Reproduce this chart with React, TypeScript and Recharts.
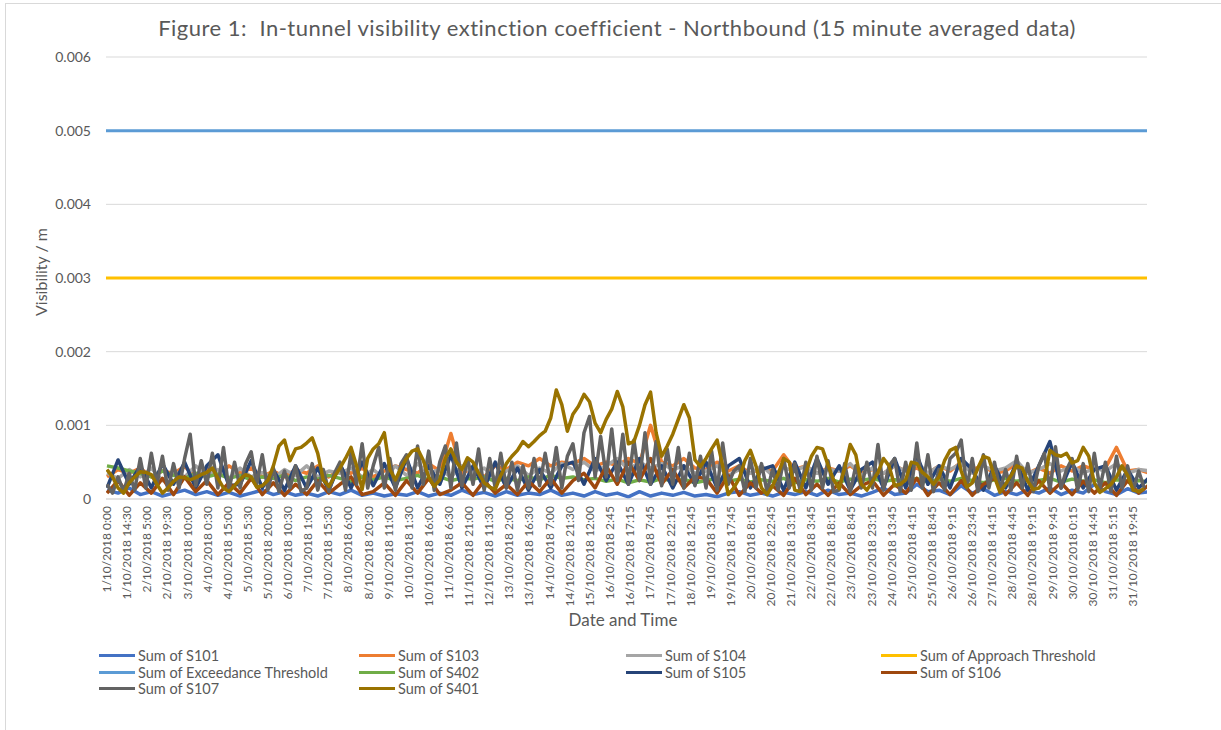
import React from 'react';
import { LineChart, Line, XAxis, YAxis, CartesianGrid } from 'recharts';

const TITLE = 'Figure 1:  In-tunnel visibility extinction coefficient - Northbound (15 minute averaged data)';

const TICK_LABELS = [
  '1/10/2018 0:00', '1/10/2018 14:30', '2/10/2018 5:00', '2/10/2018 19:30', '3/10/2018 10:00',
  '4/10/2018 0:30', '4/10/2018 15:00', '5/10/2018 5:30', '5/10/2018 20:00', '6/10/2018 10:30',
  '7/10/2018 1:00', '7/10/2018 15:30', '8/10/2018 6:00', '8/10/2018 20:30', '9/10/2018 11:00',
  '10/10/2018 1:30', '10/10/2018 16:00', '11/10/2018 6:30', '11/10/2018 21:00', '12/10/2018 11:30',
  '13/10/2018 2:00', '13/10/2018 16:30', '14/10/2018 7:00', '14/10/2018 21:30', '15/10/2018 12:00',
  '16/10/2018 2:45', '16/10/2018 17:15', '17/10/2018 7:45', '17/10/2018 22:15', '18/10/2018 12:45',
  '19/10/2018 3:15', '19/10/2018 17:45', '20/10/2018 8:15', '20/10/2018 22:45', '21/10/2018 13:15',
  '22/10/2018 3:45', '22/10/2018 18:15', '23/10/2018 8:45', '23/10/2018 23:15', '24/10/2018 13:45',
  '25/10/2018 4:15', '25/10/2018 18:45', '26/10/2018 9:15', '26/10/2018 23:45', '27/10/2018 14:15',
  '28/10/2018 4:45', '28/10/2018 19:15', '29/10/2018 9:45', '30/10/2018 0:15', '30/10/2018 14:45',
  '31/10/2018 5:15', '31/10/2018 19:45',
];

// readings in 1e-5 /m, S401 + S107 every 4 h, the rest every 8 h
const S401 = [
  40, 30, 15, 8, 22, 30, 37, 36, 33, 20, 8, 15, 24, 30, 29, 26, 29, 33,
  36, 42, 28, 15, 10, 18, 27, 33, 30, 16, 18, 25, 45, 72, 80, 52, 68, 70,
  76, 83, 62, 26, 17, 30, 42, 55, 70, 45, 13, 55, 68, 75, 90, 40, 26, 42,
  55, 65, 68, 53, 30, 17, 26, 55, 68, 50, 40, 56, 50, 35, 22, 16, 13, 32,
  48, 58, 66, 78, 71, 78, 86, 92, 110, 148, 128, 92, 115, 126, 142, 132, 103, 90,
  108, 122, 146, 125, 75, 78, 100, 128, 145, 90, 58, 72, 88, 108, 128, 110, 53, 44,
  55, 68, 80, 45, 6, 15, 28, 52, 66, 45, 15, 6, 18, 34, 55, 50, 12, 10,
  36, 58, 70, 68, 46, 26, 14, 42, 74, 60, 20, 12, 24, 36, 55, 45, 18, 20,
  26, 50, 48, 36, 30, 20, 30, 52, 66, 70, 38, 16, 22, 42, 58, 55, 30, 9,
  20, 32, 45, 42, 24, 13, 15, 25, 66, 60, 58, 62, 49, 52, 70, 58, 22, 9,
  14, 20, 30, 45, 32, 12, 10, 14,
];
const S107 = [
  20, 8, 30, 10, 35, 12, 55, 15, 62, 20, 58, 12, 48, 15, 55, 88, 18, 52,
  20, 62, 15, 70, 12, 50, 15, 48, 64, 20, 60, 12, 42, 10, 38, 15, 45, 10,
  15, 48, 12, 40, 10, 35, 50, 12, 62, 20, 75, 15, 45, 70, 15, 55, 12, 48,
  60, 15, 72, 20, 65, 12, 50, 72, 15, 76, 18, 55, 20, 68, 12, 55, 15, 62,
  15, 50, 12, 45, 15, 55, 18, 62, 20, 70, 15, 58, 75, 25, 90, 112, 30, 85,
  30, 95, 25, 88, 20, 80, 25, 90, 20, 78, 18, 68, 20, 70, 15, 62, 18, 58,
  15, 65, 12, 76, 20, 38, 45, 10, 55, 15, 48, 10, 40, 12, 55, 15, 48, 10,
  50, 12, 58, 15, 52, 10, 12, 48, 10, 45, 15, 50, 15, 74, 12, 45, 55, 10,
  50, 12, 76, 15, 60, 10, 40, 12, 55, 62, 80, 15, 55, 10, 60, 15, 50, 12,
  40, 12, 58, 15, 48, 10, 45, 62, 12, 71, 15, 40, 55, 12, 48, 10, 62, 15,
  50, 10, 58, 15, 45, 12, 38, 15,
];
const S101 = [
  12, 8, 15, 6, 10, 4, 8, 12, 6, 10, 5, 9, 4, 8, 12, 6, 10, 5, 8, 4, 10, 6, 12, 5,
  8, 4, 7, 5, 10, 4, 8, 5, 12, 6, 9, 4, 10, 5, 8, 6, 12, 5, 8, 4, 10, 5, 8, 3,
  10, 4, 8, 5, 9, 4, 6, 3, 8, 10, 5, 8, 4, 9, 6, 10, 5, 12, 6, 8, 4, 9, 15, 6,
  8, 20, 10, 12, 6, 18, 8, 14, 5, 10, 6, 12, 8, 15, 6, 12, 8, 20, 10, 6, 14, 8, 10,
];
const S103 = [
  30, 40, 35, 42, 30, 38, 35, 44, 30, 40, 32, 45, 35, 42, 30, 38, 30, 40, 35, 45, 30, 40, 35, 42,
  30, 38, 45, 40, 35, 48, 38, 89, 35, 42, 30, 45, 40, 50, 45, 55, 45, 50, 48, 55, 45, 50, 45, 55,
  48, 100, 50, 45, 55, 42, 40, 50, 38, 45, 35, 42, 38, 60, 40, 45, 35, 42, 38, 45, 35, 40, 35, 45,
  38, 42, 35, 45, 38, 50, 40, 45, 35, 38, 48, 35, 42, 35, 45, 38, 45, 40, 42, 70, 38, 40, 35,
];
const S104 = [
  35, 28, 40, 30, 42, 25, 38, 30, 45, 32, 40, 28, 42, 30, 36, 28, 40, 32, 45, 30, 38, 35, 42, 30,
  40, 28, 45, 32, 48, 35, 40, 30, 45, 35, 42, 28, 38, 45, 32, 42, 35, 48, 40, 50, 38, 45, 55, 40,
  50, 42, 48, 40, 45, 35, 38, 45, 32, 40, 35, 45, 32, 42, 38, 45, 35, 40, 38, 48, 32, 42, 35, 45,
  38, 50, 35, 45, 40, 48, 35, 45, 38, 42, 52, 35, 40, 48, 38, 45, 35, 42, 38, 48, 35, 40, 38,
];
const S402 = [
  45, 42, 38, 35, 30, 38, 32, 28, 35, 30, 34, 28, 32, 26, 30, 28, 32, 25, 30, 27, 32, 28, 24, 30,
  26, 30, 25, 28, 32, 26, 30, 25, 28, 27, 30, 24, 28, 25, 30, 26, 32, 28, 30, 26, 28, 24, 27, 22,
  26, 23, 28, 24, 27, 22, 25, 28, 24, 27, 23, 26, 24, 28, 22, 26, 24, 28, 23, 27, 25, 28, 24, 26,
  25, 28, 23, 27, 24, 28, 25, 22, 26, 28, 24, 27, 25, 28, 23, 27, 24, 26, 22, 26, 24, 25, 23,
];
const S105 = [
  15, 53, 20, 45, 15, 48, 20, 50, 15, 45, 60, 18, 20, 52, 15, 40, 12, 45, 15, 42, 12, 48, 15, 50,
  18, 48, 15, 55, 15, 45, 20, 60, 15, 45, 15, 50, 15, 42, 12, 40, 15, 45, 50, 20, 55, 25, 50, 20,
  55, 20, 45, 15, 45, 20, 50, 15, 45, 55, 15, 40, 45, 12, 50, 15, 55, 20, 45, 12, 40, 50, 15, 55,
  15, 60, 20, 45, 15, 55, 40, 12, 45, 15, 50, 12, 45, 78, 15, 50, 15, 40, 45, 12, 40, 15, 30,
];
const S106 = [
  8, 25, 5, 22, 8, 28, 6, 30, 10, 25, 6, 22, 8, 28, 6, 22, 5, 20, 6, 25, 8, 20, 30, 6,
  10, 22, 5, 25, 8, 28, 6, 12, 22, 5, 25, 8, 20, 6, 24, 10, 28, 8, 25, 35, 15, 45, 20, 50,
  25, 55, 20, 40, 15, 30, 28, 8, 32, 5, 22, 8, 18, 5, 28, 6, 20, 5, 22, 6, 18, 25, 5, 20,
  8, 28, 5, 22, 6, 25, 5, 20, 28, 6, 22, 5, 25, 8, 22, 6, 24, 8, 22, 5, 25, 8, 20,
];
const APPROACH_THRESHOLD = 0.003;
const EXCEEDANCE_THRESHOLD = 0.005;

const X_DOMAIN: [number, number] = [-0.7, 750];
const Y_TICKS = [0, 0.001, 0.002, 0.003, 0.004, 0.005, 0.006];

const labelHours = (s: string) => {
  const [date, time] = s.split(' ');
  const day = Number(date.split('/')[0]);
  const [h, m] = time.split(':').map(Number);
  return (day - 1) * 24 + h + m / 60;
};
const TICK_HOURS = TICK_LABELS.map(labelHours);

const every = (hours: number, vals: number[]) => vals.map((v, i) => ({ t: i * hours, v: v / 1e5 }));
const flat = (v: number) => [{ t: X_DOMAIN[0], v }, { t: X_DOMAIN[1], v }];

const SERIES = [
  { name: 'Sum of S101', color: '#4472C4', data: every(8, S101) },
  { name: 'Sum of S103', color: '#ED7D31', data: every(8, S103) },
  { name: 'Sum of S104', color: '#A5A5A5', data: every(8, S104) },
  { name: 'Sum of Approach Threshold', color: '#FFC000', data: flat(APPROACH_THRESHOLD) },
  { name: 'Sum of Exceedance Threshold', color: '#5B9BD5', data: flat(EXCEEDANCE_THRESHOLD) },
  { name: 'Sum of S402', color: '#70AD47', data: every(8, S402) },
  { name: 'Sum of S105', color: '#264478', data: every(8, S105) },
  { name: 'Sum of S106', color: '#9E480E', data: every(8, S106) },
  { name: 'Sum of S107', color: '#636363', data: every(4, S107) },
  { name: 'Sum of S401', color: '#997300', data: every(4, S401) },
];

const TEXT = '#595959';
const FONT = 'Lato, "Open Sans", sans-serif';

const XTick = (props: any) => {
  const { x, y, payload } = props;
  const label = TICK_LABELS[TICK_HOURS.indexOf(payload.value)];
  return (
    <text x={x} y={y} transform={`rotate(-90 ${x} ${y})`} textAnchor="end" dy="0.35em"
      fill={TEXT} fontSize={12} fontFamily={FONT}>
      {label}
    </text>
  );
};

const LEGEND_COLS = [99, 359, 626, 881];
const LEGEND_ROWS = [655, 672, 688];

export default function App() {
  return (
    <div style={{ position: 'fixed', left: 0, top: 0, width: 1221, height: 730, overflow: 'hidden', background: '#fff', fontFamily: FONT, color: TEXT }}>
      <div style={{ position: 'absolute', left: 5, top: 3, width: 1300, height: 800, border: '1px solid #d9d9d9' }} />
      <div style={{ position: 'absolute', left: 0, top: 15, width: 1234, textAlign: 'center', fontSize: 22, letterSpacing: 0.5, lineHeight: '26px', whiteSpace: 'pre' }}>
        {TITLE}
      </div>
      <div style={{ position: 'absolute', left: 0, top: 0 }}>
        <LineChart width={1221} height={730} margin={{ top: 57, right: 74, left: 0, bottom: 0 }}>
          <CartesianGrid vertical={false} stroke="#d9d9d9" />
          <XAxis dataKey="t" type="number" domain={X_DOMAIN} allowDataOverflow ticks={TICK_HOURS}
            interval={0} height={231} tick={<XTick />} tickLine={false} tickSize={0} tickMargin={7}
            axisLine={{ stroke: '#d9d9d9' }} />
          <YAxis type="number" domain={[0, 0.006]} ticks={Y_TICKS} width={106} axisLine={false}
            tickLine={false} tickSize={6} tickMargin={9}
            tick={{ fill: TEXT, fontSize: 14, fontFamily: FONT }}
            tickFormatter={(v: number) => (v === 0 ? '0' : v.toFixed(3))} />
          {SERIES.map((s) => (
            <Line key={s.name} data={s.data} dataKey="v" name={s.name} type="linear" stroke={s.color}
              strokeWidth={s.data.length === 2 ? 3 : 3.5} strokeLinejoin="round" dot={false}
              activeDot={false} isAnimationActive={false} />
          ))}
        </LineChart>
      </div>
      <div style={{ position: 'absolute', left: 40, top: 272, transform: 'translate(-50%, -50%) rotate(-90deg)', fontSize: 16, whiteSpace: 'nowrap' }}>
        Visibility / m
      </div>
      <div style={{ position: 'absolute', left: 623, top: 619, transform: 'translate(-50%, -50%)', fontSize: 17, whiteSpace: 'nowrap' }}>
        Date and Time
      </div>
      {SERIES.map((s, i) => (
        <div key={s.name} style={{ position: 'absolute', left: LEGEND_COLS[i % 4], top: LEGEND_ROWS[Math.floor(i / 4)] - 9, height: 18, display: 'flex', alignItems: 'center', fontSize: 14.5, whiteSpace: 'nowrap' }}>
          <span style={{ display: 'inline-block', width: 36, height: 3, background: s.color, marginRight: 3 }} />
          {s.name}
        </div>
      ))}
    </div>
  );
}
